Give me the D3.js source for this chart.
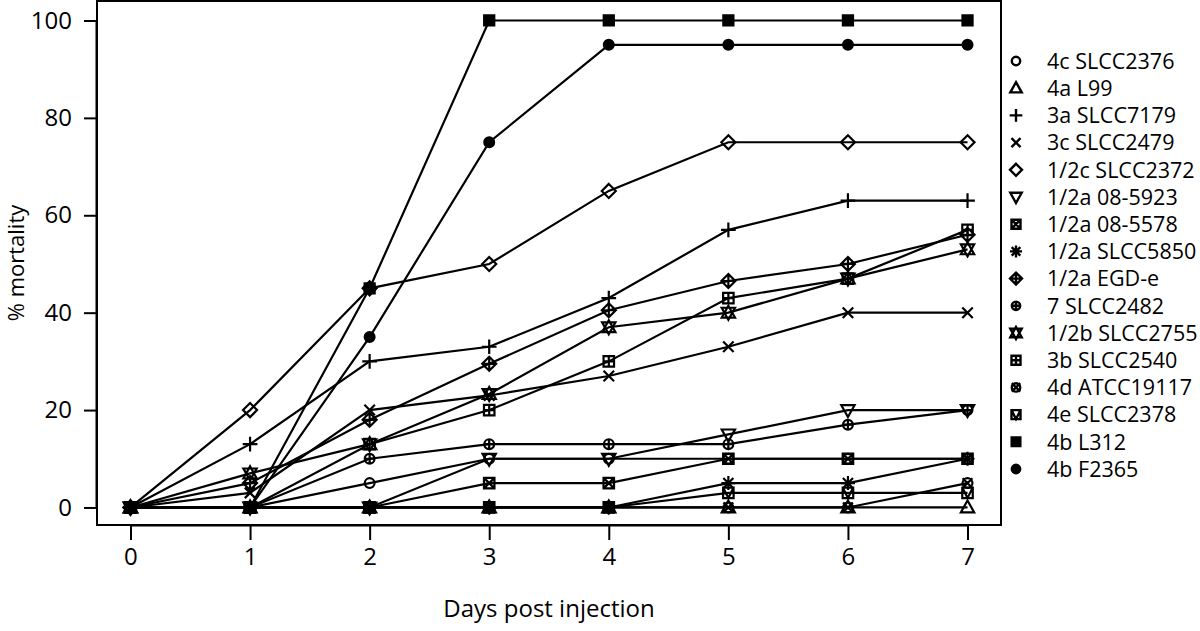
<!DOCTYPE html>
<html><head><meta charset="utf-8">
<script src="https://cdn.jsdelivr.net/npm/d3@7"></script>
<style>html,body{margin:0;padding:0;background:#fff;} svg{display:block;}</style>
</head><body>
<svg id="chart" width="1200" height="631"></svg>
<script>
const days = [0,1,2,3,4,5,6,7];
const strains = ["4c SLCC2376","4a L99","3a SLCC7179","3c SLCC2479","1/2c SLCC2372","1/2a 08-5923","1/2a 08-5578","1/2a SLCC5850","1/2a EGD-e","7 SLCC2482","1/2b SLCC2755","3b SLCC2540","4d ATCC19117","4e SLCC2378","4b L312","4b F2365"];
const symbolTypes = ["circle","triUp","plus","cross","diamond","triDown","squareX","asterisk","diamondPlus","circlePlus","star","squarePlus","circleX","squareTri","squareFill","circleFill"];
const m4cSLCC2376  = [0,0,5,10,10,10,10,10];
const m4aL99       = [0,0,0,0,0,0,0,0];
const m3aSLCC7179  = [0,13,30,33,43,57,63,63];
const m3cSLCC2479  = [0,3,20,23,27,33,40,40];
const m12cSLCC2372 = [0,20,45,50,65,75,75,75];
const m12a085923   = [0,0,0,10,10,15,20,20];
const m12a085578   = [0,0,0,5,5,10,10,10];
const m12aSLCC5850 = [0,0,0,0,0,5,5,10];
const m12aEGDe     = [0,5,18,29.5,40.5,46.5,50,56];
const m7SLCC2482   = [0,0,10,13,13,13,17,20];
const m12bSLCC2755 = [0,7,13,23.3,37,40,47,53];
const m3bSLCC2540  = [0,0,13,20,30,43,47,57];
const m4dATCC19117 = [0,0,0,0,0,0,0,5];
const m4eSLCC2378  = [0,0,0,0,0,3,3,3];
const m4bL312      = [0,0,45,100,100,100,100,100];
const m4bF2365     = [0,0,35,75,95,95,95,95];
const seriesValues = [m4cSLCC2376,m4aL99,m3aSLCC7179,m3cSLCC2479,m12cSLCC2372,m12a085923,m12a085578,m12aSLCC5850,m12aEGDe,m7SLCC2482,m12bSLCC2755,m3bSLCC2540,m4dATCC19117,m4eSLCC2378,m4bL312,m4bF2365];
const yTicks = [0,20,40,60,80,100];
const xLabel = "Days post injection";
const yLabel = "% mortality";

const FONT = "'Open Sans', sans-serif";
const FS = 24;
const LFS = 21.5;
const svg = d3.select("#chart");
const box = {l:97, r:1001, t:1, b:525};
const x = d3.scaleLinear().domain([-0.28, 7.28]).range([box.l, box.r]);
const y = d3.scaleLinear().domain([-3.6, 104]).range([box.b, box.t]);

function symPath(type, s) {
  const p = d3.path();
  const circ = (r) => { p.moveTo(r,0); p.arc(0,0,r,0,2*Math.PI); };
  const sq = (h) => { p.rect(-h,-h,2*h,2*h); };
  const plus = (h) => { p.moveTo(-h,0); p.lineTo(h,0); p.moveTo(0,-h); p.lineTo(0,h); };
  const cross = (h) => { p.moveTo(-h,-h); p.lineTo(h,h); p.moveTo(-h,h); p.lineTo(h,-h); };
  const tri = (h, dir) => { p.moveTo(0,-dir*h); p.lineTo(h*0.95,dir*h*0.7); p.lineTo(-h*0.95,dir*h*0.7); p.closePath(); };
  const dia = (h) => { p.moveTo(0,-h); p.lineTo(h,0); p.lineTo(0,h); p.lineTo(-h,0); p.closePath(); };
  switch(type){
    case "circle": circ(s*0.7); break;
    case "triUp": tri(s, 1); break;
    case "plus": plus(s*1.05); break;
    case "cross": cross(s*0.75); break;
    case "diamond": dia(s); break;
    case "triDown": tri(s, -1); break;
    case "squareX": sq(s*0.75); cross(s*0.75); break;
    case "asterisk": plus(s); cross(s*0.72); break;
    case "diamondPlus": dia(s); plus(s); break;
    case "circlePlus": circ(s*0.7); plus(s*0.7); break;
    case "star": tri(s,1); tri(s,-1); break;
    case "squarePlus": sq(s*0.75); plus(s*0.75); break;
    case "circleX": circ(s*0.7); cross(s*0.7); break;
    case "squareTri": sq(s*0.75); p.moveTo(-s*0.75,-s*0.75); p.lineTo(0,s*0.75); p.lineTo(s*0.75,-s*0.75); break;
    case "squareFill": sq(s*0.72); break;
    case "circleFill": circ(s*0.7); break;
  }
  return p.toString();
}
const filled = t => t === "squareFill" || t === "circleFill";

svg.append("rect").attr("x", box.l).attr("y", box.t).attr("width", box.r-box.l).attr("height", box.b-box.t)
  .attr("fill","none").attr("stroke","#000").attr("stroke-width",2);

const xAxis = d3.axisBottom(x).tickValues(days).tickSize(15).tickPadding(8).tickFormat(d3.format("d"));
const gx = svg.append("g").attr("transform",`translate(0,${box.b})`).call(xAxis);
gx.select(".domain").attr("d", `M${x(0)},0.5H${x(7)}`).attr("stroke-width",2);
gx.selectAll(".tick line").attr("stroke-width",2);
gx.selectAll("text").attr("font-family",FONT).attr("font-size",FS).attr("fill","#000");

const yAxis = d3.axisLeft(y).tickValues(yTicks).tickSize(13).tickPadding(12);
const gy = svg.append("g").attr("transform",`translate(${box.l},0)`).call(yAxis);
gy.select(".domain").attr("d", `M-0.5,${y(0)}V${y(100)}`).attr("stroke-width",2);
gy.selectAll(".tick line").attr("stroke-width",2);
gy.selectAll("text").attr("font-family",FONT).attr("font-size",FS).attr("fill","#000");

svg.append("text").attr("x", 549).attr("y", 617).attr("text-anchor","middle")
  .attr("font-family",FONT).attr("font-size",FS).text(xLabel);
svg.append("text").attr("transform",`translate(24,${(box.t+box.b)/2}) rotate(-90)`).attr("text-anchor","middle")
  .attr("font-family",FONT).attr("font-size",22).text(yLabel);

const line = d3.line().x((d,i)=>x(days[i])).y(d=>y(d));
const plot = svg.append("g");
seriesValues.forEach((vals,k) => {
  plot.append("path").attr("d", line(vals)).attr("fill","none").attr("stroke","#000").attr("stroke-width",2.2);
});
seriesValues.forEach((vals,k) => {
  const t = symbolTypes[k];
  plot.selectAll(null).data(vals).enter().append("path")
    .attr("transform",(d,i)=>`translate(${x(days[i])},${y(d)})`)
    .attr("d", symPath(t, 7))
    .attr("fill", filled(t) ? "#000" : "none")
    .attr("stroke","#000").attr("stroke-width", 2.2);
});

const leg = svg.append("g");
strains.forEach((name,k) => {
  const cy = 61 + k*27.2;
  const t = symbolTypes[k];
  leg.append("path").attr("transform",`translate(1016,${cy})`).attr("d", symPath(t, 6))
    .attr("fill", filled(t) ? "#000" : "none").attr("stroke","#000").attr("stroke-width",2.4);
  leg.append("text").attr("x",1047).attr("y",cy).attr("dy","0.36em")
    .attr("font-family",FONT).attr("font-size",LFS).text(name);
});
</script>
</body></html>
